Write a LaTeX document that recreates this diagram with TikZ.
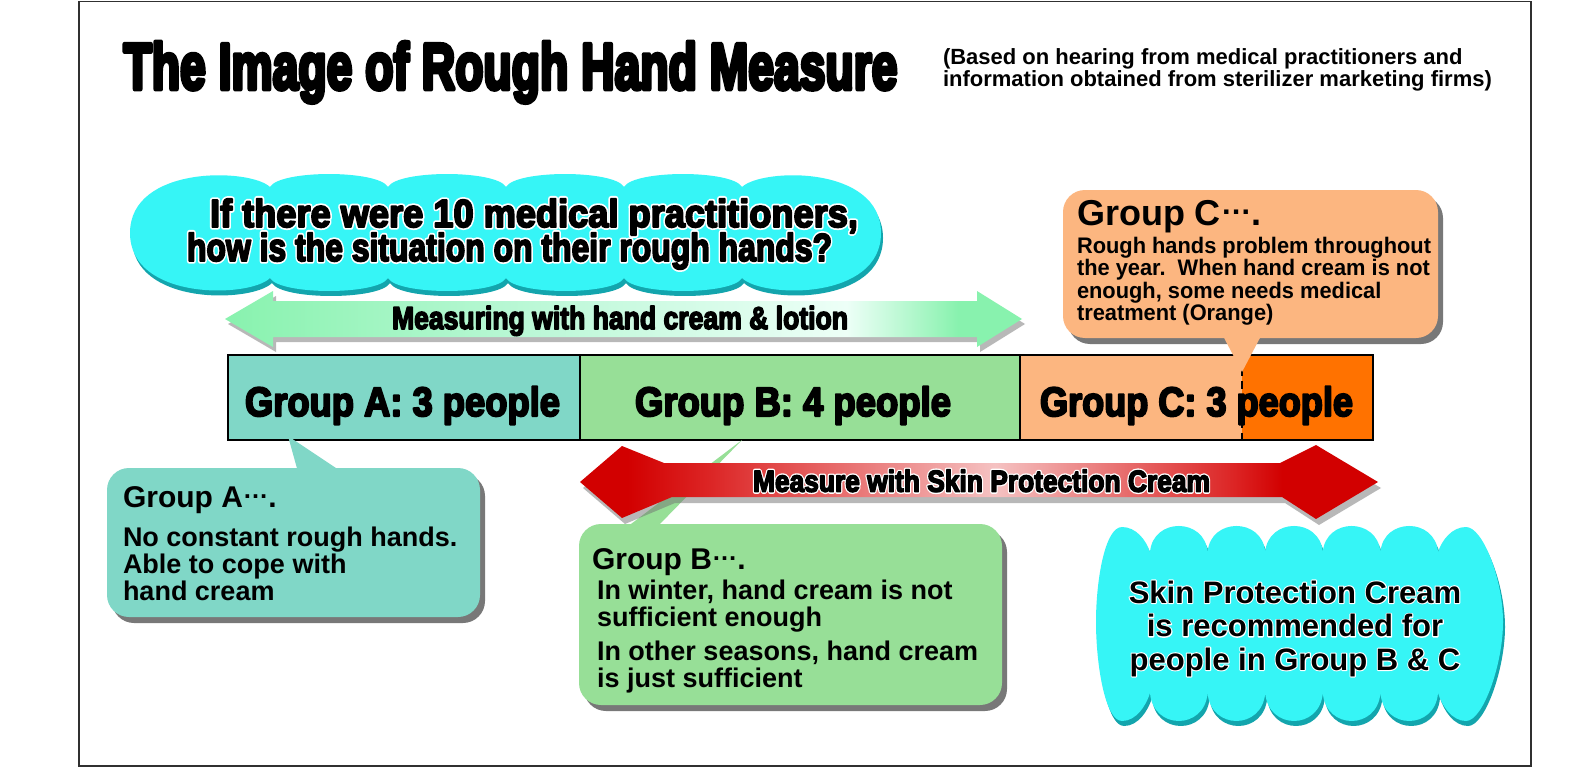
\documentclass[tikz,border=0pt]{standalone}
\usepackage{fontspec}
\usepackage{graphicx}
\setmainfont{Liberation Sans}
\newfontfamily\heavy{Liberation Sans Bold}[FakeBold=5]
\newfontfamily\heavyT{Liberation Sans Bold}[FakeBold=7]
\newfontfamily\heavyW{Liberation Sans Bold}[FakeBold=14]
\newfontfamily\bodyfont{Liberation Sans Bold}
\newfontfamily\bodyW{Liberation Sans Bold}[FakeBold=7]
\newfontfamily\condfont{Liberation Sans Bold}[FakeStretch=0.97]
\usetikzlibrary{shadows}

\definecolor{frameC}{HTML}{303030}
\definecolor{cyanM}{HTML}{36F5F6}
\definecolor{cyanD}{HTML}{13A5AD}
\definecolor{tealA}{HTML}{80D7C7}
\definecolor{greenB}{HTML}{97DF97}
\definecolor{peachC}{HTML}{FCB680}
\definecolor{orangeC}{HTML}{FF7200}
\definecolor{gA}{HTML}{88F2AE}
\definecolor{gM}{HTML}{BDF8D8}
\definecolor{gW}{HTML}{EDFFF7}
\definecolor{rA}{HTML}{D20000}
\definecolor{rB}{HTML}{DC2424}
\definecolor{rP}{HTML}{F5C2C2}

\pgfdeclarehorizontalshading{garrow}{100bp}{color(0bp)=(gA); color(25bp)=(gA); color(45bp)=(gM); color(64bp)=(gW); color(71bp)=(gA); color(100bp)=(gA)}
\pgfdeclarehorizontalshading{rarrow}{100bp}{color(0bp)=(rA); color(28bp)=(rA); color(33bp)=(rB); color(51bp)=(rP); color(66bp)=(rB); color(69bp)=(rA); color(100bp)=(rA)}

% fitted heavy text: width, font, size, text
\newcommand\hv[4]{\resizebox{#1}{\height}{#2\fontsize{#3}{#3}\selectfont #4}}
% fitted heavy text with white outline: width, size, text
\newcommand\hvo[3]{\makebox[0pt][l]{\color{white}\hv{#1}{\heavyW}{#2}{#3}}\hv{#1}{\heavy}{#2}{#3}}
% body text with white outline: size, text
\newcommand\bo[2]{\fontsize{#1}{#1}\selectfont\makebox[0pt][l]{\color{white}\bodyW #2}{\bodyfont #2}}
\newcommand\mdots{\raisebox{0.3em}{\scalebox{0.85}{…}}}
% fixed line pitch
\newcommand\tight{\lineskiplimit=-100pt\lineskip=0pt}
\newcommand\bls[1]{\baselineskip=#1pt\relax}
\newcommand\fs[1]{\fontsize{#1}{#1}\selectfont}

\begin{document}
\begin{tikzpicture}[x=1pt,y=-1pt, line join=round,
  txt/.style={inner sep=0pt, outer sep=0pt},
  callbox/.style={rounded corners=22pt, inner sep=0pt,
    drop shadow={shadow xshift=5pt, shadow yshift=-6pt, fill=black!70, opacity=.75}},
  arrowshadow/.style={fill=black!55, opacity=.5},
  topcloud/.style={insert path={(270,187)
    \foreach \a in {270,388,506,624}{ .. controls (\a+10,169.7) and (\a+108,169.7) .. (\a+118,187)}
    .. controls (762,168) and (881,165) .. (881,233)
    .. controls (881,301) and (762,298) .. (742,278)
    \foreach \a in {624,506,388,270}{ .. controls (\a+108,295.3) and (\a+10,295.3) .. (\a,278)}
    .. controls (250,298) and (130,301) .. (130,233)
    .. controls (130,165) and (250,168) .. (270,187) -- cycle}},
  brcloud/.style={insert path={(1096,622)
    .. controls (1096,580) and (1105,527) .. (1122,527)
    .. controls (1136,527) and (1146,540) .. (1150,552)
    \foreach \a in {1150,1207.6,1265.2,1322.8,1380.4}{ .. controls (\a+3,517.3) and (\a+54.6,517.3) .. (\a+57.6,552)}
    .. controls (1442,540) and (1452,527) .. (1466,527)
    .. controls (1483,527) and (1503,580) .. (1503,622)
    .. controls (1503,664) and (1483,721) .. (1466,721)
    .. controls (1452,721) and (1442,706) .. (1438,693)
    \foreach \a in {1380.4,1322.8,1265.2,1207.6,1150}{ .. controls (\a+54.6,730.3) and (\a+3,730.3) .. (\a,693)}
    .. controls (1146,706) and (1136,721) .. (1122,721)
    .. controls (1105,721) and (1096,664) .. (1096,622) -- cycle}},
  garrowpath/.style={insert path={(225,319) -- (273,291) -- (273,301) -- (977,301) -- (977,291) -- (1022,319) -- (977,347) -- (977,337) -- (273,337) -- (273,347) -- cycle}},
  rarrowpath/.style={insert path={(580,482) -- (622,446) -- (664,463) -- (1280,463) -- (1316,445) -- (1378,482) -- (1316,519) -- (1282,497) -- (672,497) -- (622,518) -- cycle}}
]
\useasboundingbox (0,0) rectangle (1587,773);
\fill[white] (0,0) rectangle (1587,773);
\draw[frameC, line width=1.5pt, line join=miter] (79,1.5) rectangle (1531,766);

% title
\node[txt, anchor=base west] (title) at (123.5,89) {\hv{774pt}{\heavyT}{65}{The Image of Rough Hand Measure}};
\node[txt, anchor=base west] (sub) at (943,65) {\vtop{\tight
  \hbox{\fs{22}\bodyfont (Based on hearing from medical practitioners and}\bls{21.5}
  \hbox{\fs{22}\bodyfont information obtained from sterilizer marketing firms)}}};

% top cloud
\fill[cyanD, shift={(2,5)}, topcloud];
\fill[cyanM, topcloud];
\node[txt, anchor=base west] (question) at (187,227) {\vtop{\tight
  \hbox{\hspace*{23pt}\hvo{648pt}{39}{If there were 10 medical practitioners,}}\bls{34}
  \hbox{\hvo{645pt}{39}{how is the situation on their rough hands?}}}};

% green double arrow
\fill[arrowshadow, shift={(3,5)}, garrowpath];
\shade[shading=garrow, garrowpath];
\node[txt, anchor=base] (glabel) at (620,329) {\hv{456pt}{\heavy}{31.7}{Measuring with hand cream \& lotion}};

% bar
\fill[tealA] (228,355) rectangle (580,440);
\fill[greenB] (580,355) rectangle (1020,440);
\fill[peachC] (1020,355) rectangle (1242,440);
\fill[orangeC] (1242,355) rectangle (1373,440);
\draw[line width=2pt, line join=miter] (228,355) rectangle (1373,440);
\draw[line width=1.6pt] (580,355) -- (580,440) (1020,355) -- (1020,440);
\draw[line width=1.5pt, dash pattern=on 8pt off 5pt] (1242,355) -- (1242,440);
\node[txt, anchor=base] (tA) at (402.5,416) {\hv{315pt}{\heavy}{41}{Group A: 3 people}};
\node[txt, anchor=base] (tB) at (793,416) {\hv{316pt}{\heavy}{41}{Group B: 4 people}};
\node[txt, anchor=base] (tC) at (1196.5,416) {\hv{313pt}{\heavy}{41}{Group C: 3 people}};

% group B pointer (under the red arrow)
\fill[greenB] (742,440) -- (627,527) -- (657,527) -- cycle;

% red double arrow
\fill[arrowshadow, shift={(3,6)}, rarrowpath];
\shade[shading=rarrow, rarrowpath];
\node[txt, anchor=base] (rlabel) at (981.5,491.7) {\hvo{457pt}{30.3}{Measure with Skin Protection Cream}};

% callout A
\node[callbox, fill=tealA, minimum width=373pt, minimum height=149pt] (boxA) at (293.5,542.5) {};
\fill[tealA] (298,472) -- (288,436) -- (342,472) -- cycle;
\node[txt, anchor=base west] (txtA) at (123,507) {\vtop{\tight\bodyfont
  \hbox{\fs{30}Group A\mdots.}\bls{39}
  \hbox{\fs{27}No constant rough hands.}\bls{27}
  \hbox{\fs{27}Able to cope with}
  \hbox{\fs{27}hand cream}}};

% callout B
\node[callbox, fill=greenB, minimum width=423pt, minimum height=181pt] (boxB) at (790.5,614.5) {};
\node[txt, anchor=base west] (txtB) at (592,569) {\vtop{\tight\bodyfont
  \hbox{\fs{30}Group B\mdots.}\bls{30}
  \hbox{\hspace*{5pt}\fs{27}In winter, hand cream is not}\bls{27}
  \hbox{\hspace*{5pt}\fs{27}sufficient enough}\bls{34}
  \hbox{\hspace*{5pt}\fs{27}In other seasons, hand cream}\bls{27}
  \hbox{\hspace*{5pt}\fs{27}is just sufficient}}};

% callout C
\node[callbox, fill=peachC, minimum width=375pt, minimum height=148pt] (boxC) at (1250.5,264) {};
\fill[peachC] (1222,334) -- (1242,372) -- (1262,334) -- cycle;
\node[txt, anchor=base west] (txtC) at (1077,225) {\vtop{\tight
  \hbox{\fs{36}\bodyfont Group C\mdots.}\bls{28.5}
  \hbox{\fs{22.5}\condfont Rough hands problem throughout}\bls{22.3}
  \hbox{\fs{22.5}\condfont the year.\ \ When hand cream is not}
  \hbox{\fs{22.5}\condfont enough, some needs medical}
  \hbox{\fs{22.5}\condfont treatment (Orange)}}};

% bottom-right cloud
\fill[cyanD, shift={(2,5)}, brcloud];
\fill[cyanM, brcloud];
\node[txt, anchor=base] (advice) at (1295,603) {\vtop{\tight\bls{33.5}
  \hbox to 360pt{\hss\bo{31}{Skin Protection Cream}\hss}
  \hbox to 360pt{\hss\bo{31}{is recommended for}\hss}
  \hbox to 360pt{\hss\bo{31}{people in Group B \& C}\hss}}};
\end{tikzpicture}
\end{document}
